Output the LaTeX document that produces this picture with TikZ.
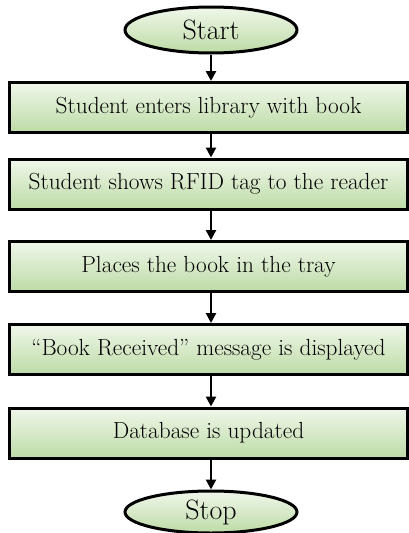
\documentclass[tikz,border=0pt]{standalone}
\usepackage{fontspec}
\usetikzlibrary{shapes.geometric,arrows.meta}
\definecolor{boxtop}{HTML}{F0F7EA}
\definecolor{boxbot}{HTML}{BDDBA6}
\tikzset{
  stepbox/.style={draw=black, line width=3pt, top color=boxtop, bottom color=boxbot,
    minimum width=398pt, minimum height=50pt, inner sep=0pt,
    font=\fontsize{23.3}{25}\selectfont},
  terminal/.style={ellipse, draw=black, line width=3pt, top color=boxtop, bottom color=boxbot,
    minimum width=172pt, minimum height=46pt, inner sep=0pt,
    font=\fontsize{28}{30}\selectfont},
  flow/.style={line width=2.6pt, -{Triangle[length=10pt,width=10pt]}}
}
\begin{document}
\begin{tikzpicture}[x=1pt,y=-1pt]
  \useasboundingbox (0,0) rectangle (409,533);
  \node[terminal] (start) at (211,30) {Start};
  \node[stepbox] (s1) at (208.5,107.5) {Student enters library with book};
  \node[stepbox] (s2) at (208.5,184) {Student shows RFID tag to the reader};
  \node[stepbox] (s3) at (208.5,266.5) {Places the book in the tray};
  \node[stepbox] (s4) at (208.5,349.5) {``Book Received'' message is displayed};
  \node[stepbox] (s5) at (208.5,433) {Database is updated};
  \node[terminal, minimum height=42pt] (stop) at (211,512) {Stop};
  \draw[flow] (start) -- (start |- s1.north);
  \draw[flow] (start |- s1.south) -- (start |- s2.north);
  \draw[flow] (start |- s2.south) -- (start |- s3.north);
  \draw[flow] (start |- s3.south) -- (start |- s4.north);
  \draw[flow] (start |- s4.south) -- (start |- s5.north);
  \draw[flow] (start |- s5.south) -- (stop);
\end{tikzpicture}
\end{document}
